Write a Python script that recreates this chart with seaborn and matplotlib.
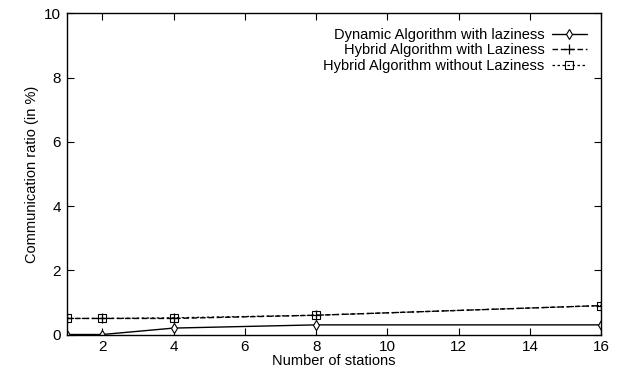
import matplotlib
matplotlib.use("Agg")
import matplotlib.pyplot as plt
import seaborn as sns
import pandas as pd

stations = [1, 2, 4, 8, 16]
dynamic_lazy = [0.0, 0.0, 0.2, 0.3, 0.3]
hybrid_lazy = [0.5, 0.5, 0.5, 0.6, 0.9]
hybrid_nolazy = [0.5, 0.5, 0.52, 0.6, 0.9]
labels = ["Dynamic Algorithm with laziness",
          "Hybrid Algorithm with Laziness",
          "Hybrid Algorithm without Laziness"]
xticks = [2, 4, 6, 8, 10, 12, 14, 16]
yticks = [0, 2, 4, 6, 8, 10]

sns.set_style("ticks")
plt.rcParams['font.family'] = ['Liberation Sans', 'DejaVu Sans']
plt.rcParams.update({"text.color": "black", "axes.labelcolor": "black",
                     "xtick.color": "black", "ytick.color": "black"})

fig = plt.figure(figsize=(6.18, 3.74), dpi=100)
ax = fig.add_axes([0.108, 0.1056, 0.865, 0.8588])

sns.lineplot(x=stations, y=dynamic_lazy, ax=ax, color="black", lw=1.0,
             marker="d", markersize=5, markerfacecolor="white",
             markeredgecolor="black", markeredgewidth=0.8, label=labels[0])
sns.lineplot(x=stations, y=hybrid_lazy, ax=ax, color="black", lw=1.0,
             linestyle=(0, (4, 2)), marker="+", markersize=6.5,
             markeredgecolor="black", markeredgewidth=0.9, label=labels[1])
sns.lineplot(x=stations, y=hybrid_nolazy, ax=ax, color="black", lw=0.9,
             linestyle=(0, (2, 2)), marker="s", markersize=6,
             markerfacecolor="none", markeredgecolor="black",
             markeredgewidth=0.8, label=labels[2])

ax.set_xlim(1, 16)
ax.set_ylim(0, 10)
ax.set_xticks(xticks)
ax.set_yticks(yticks)
ax.tick_params(direction="in", length=5, width=0.8, labelsize=11, top=True, right=True, pad=4,
               colors="black")
for s in ax.spines.values():
    s.set_visible(True)
    s.set_linewidth(1.0)
    s.set_color("black")
ax.set_xlabel("Number of stations", fontsize=10.5, labelpad=0, color="black")
ax.set_ylabel("Communication ratio (in %)", fontsize=10.5, labelpad=4, color="black")

leg = ax.legend(loc="upper right", frameon=False, markerfirst=False,
                fontsize=10.5, handlelength=2.4, borderaxespad=0.6,
                labelspacing=0.1, handletextpad=0.5)
for t in leg.get_texts():
    t.set_ha("right")
    t.set_color("black")
leg._legend_box.align = "right"

fig.savefig("out.png", dpi=100)
